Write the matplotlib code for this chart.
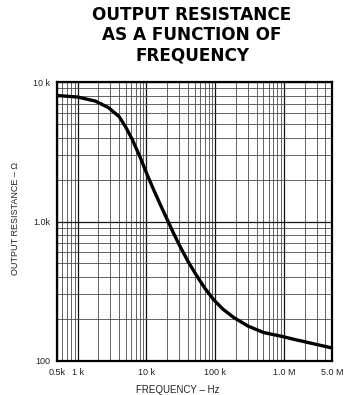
import matplotlib
matplotlib.use("Agg")
import matplotlib.pyplot as plt
from matplotlib.ticker import FixedLocator, NullFormatter, LogLocator

# Data
freq_hz = [500, 1000, 1800, 2800, 4000, 5000, 6200, 8200, 10300, 13000, 16000,
           20000, 25000, 31000, 40000, 52000, 70000, 95000, 130000, 186000,
           300000, 506000, 1000000, 1400000, 2500000, 5000000]
resistance_ohm = [8000, 7800, 7300, 6550, 5650, 4750, 3880, 2850, 2150, 1650, 1313,
                  1035, 816, 660, 520, 420, 335, 275, 235, 205,
                  178, 160, 149, 143, 134, 124]

x_ticks = [500, 1000, 10000, 100000, 1000000, 5000000]
x_tick_labels = ["0.5k", "1 k", "10 k", "100 k", "1.0 M", "5.0 M"]
y_ticks = [100, 1000, 10000]
y_tick_labels = ["100", "1.0k", "10 k"]

plt.rcParams['font.family'] = ['Liberation Sans', 'DejaVu Sans']

fig = plt.figure(figsize=(3.47, 3.95), dpi=100)
ax = fig.add_axes([57/347, 1-361/395, (332-57)/347, (361-82)/395])

ax.set_xscale('log')
ax.set_yscale('log')
ax.set_xlim(500, 5e6)
ax.set_ylim(100, 10000)

# grid
ax.xaxis.set_minor_locator(LogLocator(base=10, subs=range(2, 10), numticks=20))
ax.yaxis.set_minor_locator(LogLocator(base=10, subs=range(2, 10), numticks=20))
ax.grid(which='major', color='#111111', linewidth=0.9)
ax.grid(which='minor', color='#4a4a4a', linewidth=0.6)

ax.plot(freq_hz, resistance_ohm, color='black', linewidth=2.4,
        solid_capstyle='round', solid_joinstyle='round', zorder=5)

ax.xaxis.set_major_locator(FixedLocator(x_ticks))
ax.set_xticklabels(x_tick_labels)
ax.yaxis.set_major_locator(FixedLocator(y_ticks))
ax.set_yticklabels(y_tick_labels)
ax.xaxis.set_minor_formatter(NullFormatter())
ax.yaxis.set_minor_formatter(NullFormatter())
ax.tick_params(which='both', length=0, labelsize=6.5, colors='#222222', pad=5)

for s in ax.spines.values():
    s.set_linewidth(1.6)
    s.set_color('black')

ax.set_xlabel("FREQUENCY \u2013 Hz", fontsize=7, color='#222222')
ax.xaxis.set_label_coords(0.44, -0.085)
ax.set_ylabel("OUTPUT RESISTANCE \u2013 \u03a9", fontsize=6.5, color='#222222')
ax.yaxis.set_label_coords(-0.135, 0.51)

fig.text(192/347, 1-35/395, "OUTPUT RESISTANCE\nAS A FUNCTION OF\nFREQUENCY",
         ha='center', va='center', fontsize=12.2, fontweight='bold',
         linespacing=1.15, family='DejaVu Sans')

fig.savefig("out.png", dpi=100)
